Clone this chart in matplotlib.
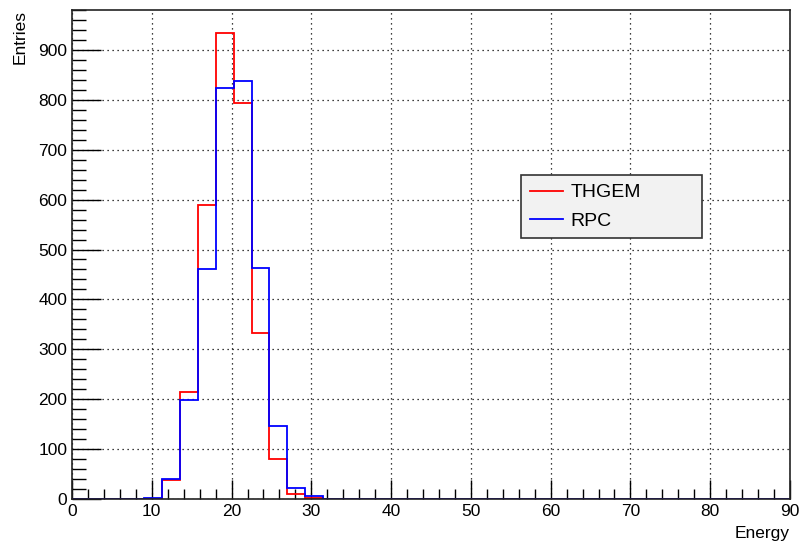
import numpy as np
import matplotlib.pyplot as plt
from matplotlib.ticker import MultipleLocator

plt.rcParams['font.family'] = ['Liberation Sans', 'DejaVu Sans']

# 40 bins of width 2.25 from 0 to 90
edges = np.linspace(0, 90, 41)
thgem = [0]*4 + [1, 38, 214, 589, 933, 793, 333, 81, 10, 2] + [0]*26
rpc = [0]*4 + [3, 40, 198, 460, 824, 837, 463, 146, 22, 6] + [0]*26

fig = plt.figure(figsize=(7.99, 5.44), dpi=100)
ax = fig.add_axes([72/799, 45/544, 718/799, 489/544])

ax.stairs(thgem, edges, color='#ff0000', lw=1.3, label='THGEM', baseline=None)
ax.stairs(rpc, edges, color='#0000ff', lw=1.3, label='RPC', baseline=None)

ax.set_xlim(0, 90)
ax.set_ylim(0, 980)
ax.xaxis.set_major_locator(MultipleLocator(10))
ax.xaxis.set_minor_locator(MultipleLocator(2))
ax.yaxis.set_major_locator(MultipleLocator(100))
ax.yaxis.set_minor_locator(MultipleLocator(20))
ax.tick_params(axis='both', which='both', direction='in', top=False, right=False,
               labelsize=12.5, color='black')
ax.tick_params(axis='y', which='major', length=21, width=1)
ax.tick_params(axis='y', which='minor', length=10, width=1)
ax.tick_params(axis='x', which='major', length=14, width=1)
ax.tick_params(axis='x', which='minor', length=7, width=1)
ax.grid(True, which='major', color='black', linestyle=(0, (1, 3)), lw=0.9)
ax.set_axisbelow(True)
for s in ax.spines.values():
    s.set_color('#222222')
    s.set_linewidth(1.2)

ax.set_xlabel('Energy', fontsize=12.5, loc='right')
ax.set_ylabel('Entries', fontsize=12.5, loc='top')
ax.xaxis.set_label_coords(1.0, -0.055)
ax.yaxis.set_label_coords(-0.062, 1.0)

leg = ax.legend(loc='upper left',
                bbox_to_anchor=((521-72)/718, (499-236)/489, 181/718, 61/489),
                mode='expand', fontsize=14, frameon=True, fancybox=False,
                handlelength=1.7, handletextpad=0.4, borderpad=0.45,
                labelspacing=0.55, borderaxespad=0)
leg.get_frame().set_facecolor('#f2f2f2')
leg.get_frame().set_edgecolor('#333333')
leg.get_frame().set_linewidth(1.2)
leg.get_frame().set_alpha(1)

fig.savefig('out.png', dpi=100)
